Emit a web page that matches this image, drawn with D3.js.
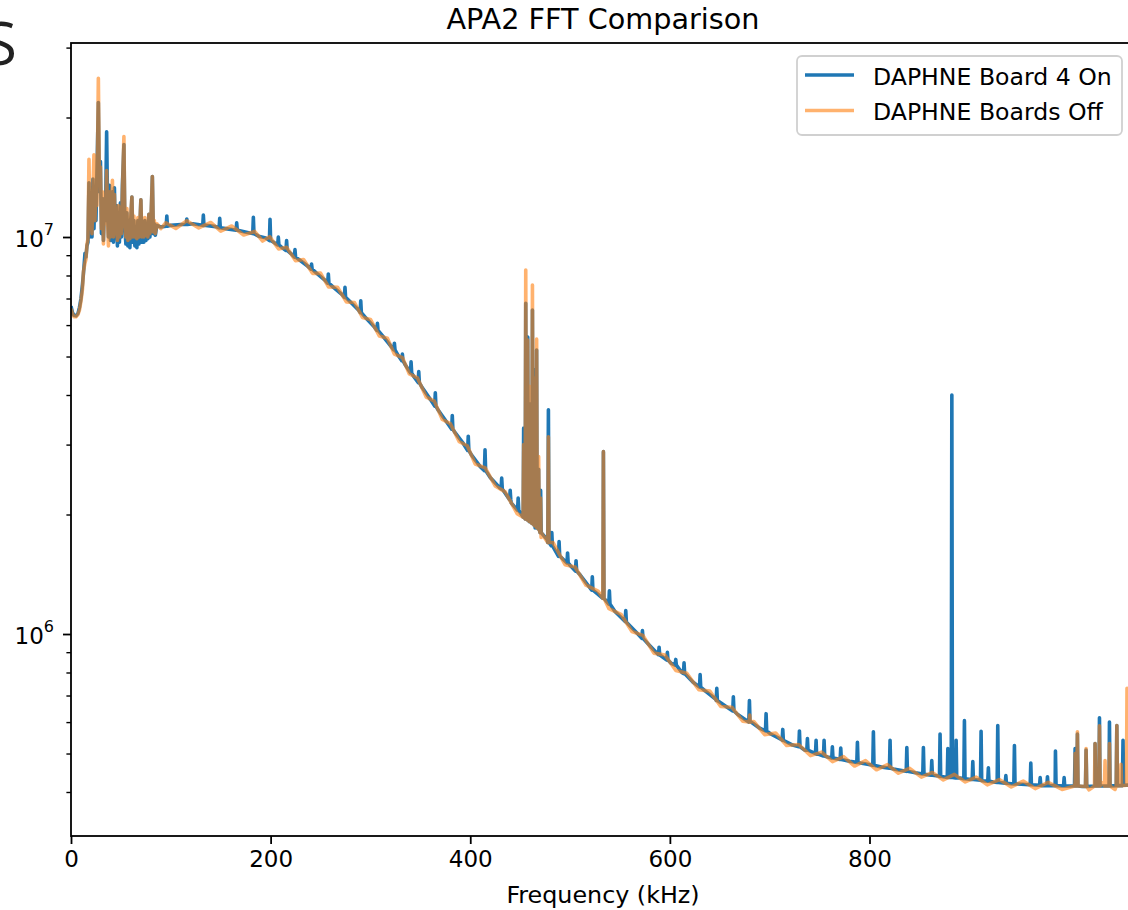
<!DOCTYPE html>
<html><head><meta charset="utf-8">
<script src="https://cdn.jsdelivr.net/npm/d3@7"></script>
<style>
body{margin:0;background:#fff;}
svg{display:block;font-family:"DejaVu Sans",sans-serif;}
</style></head><body>
<svg id="chart" width="1128" height="910"></svg>
<script>
const chartTitle = "APA2 FFT Comparison";
const xLabel = "Frequency (kHz)";
const seriesNames = ["DAPHNE Board 4 On", "DAPHNE Boards Off"];
const xTickValues = [0, 200, 400, 600, 800];
const yMajorTicks = [1e6, 1e7];
const yMajorExp = ["6", "7"];
const yMinorTicks = [4e5,5e5,6e5,7e5,8e5,9e5,2e6,3e6,4e6,5e6,6e6,7e6,8e6,9e6,2e7,3e7];
const xDomain = [0, 1066];
const yDomain = [3.099e5, 3.081e7];

// Board 4 On: low-frequency noisy part [kHz, amplitude]
const onLow = [[0,6.7e6],[1.5,6.45e6],[3,6.35e6],[5,6.33e6],[7,6.42e6],[8.5,6.65e6],[10,7.0e6],[11.5,7.6e6],[13,8.4e6],[14,9.1e6],[15,8.9e6],[16,9.5e6],[17,9.7e6],
[18,1.37e7],[19,1.0e7],[20,1.22e7],[21,1.0e7],[22,1.4e7],[23,1.05e7],[24,1.28e7],[25,1.1e7],[26,1.45e7],[27.4,2.18e7],[28.5,1.3e7],[29.5,1.55e7],[30.5,1.02e7],[31.5,1.25e7],[32.5,9.8e6],[33.5,1.2e7],[34.5,1.1e7],[35.7,1.84e7],[36.7,1.15e7],[37.5,1.0e7],[38.5,1.35e7],[39.5,9.8e6],[40.5,1.15e7],[41.5,1.3e7],[42.5,9.7e6],[43.5,1.33e7],[44.5,9.9e6],[45.5,1.2e7],[46.5,9.5e6],[47.5,1.15e7],[48.5,9.7e6],[49.5,1.22e7],[50.5,1.0e7],[51.5,1.35e7],[53,1.71e7],[54,1.05e7],[55,9.6e6],[56,1.15e7],[57,9.5e6],[58,1.1e7],[59,9.4e6],[60,1.12e7],[61,1.26e7],[62,9.7e6],[63,1.1e7],[64,9.5e6],[65,1.05e7],[66,9.4e6],[67,1.1e7],[68,9.6e6],[69,1.06e7],[70,1.24e7],[71,9.7e6],[72,1.07e7],[73,9.7e6],[74,1.1e7],[75,9.8e6],[76,1.06e7],[77,9.9e6],[78,1.14e7],[79,1.0e7],[80,1.07e7],[81.5,1.42e7],[82.5,1.02e7],[83.5,1.08e7],[84.5,1.01e7],[86,1.07e7]];

// Board 4 On: smooth floor of the spectrum
const onBase = [[90,1.06e7],[100,1.07e7],[110,1.075e7],[122,1.08e7],[135,1.07e7],[145,1.062e7],[155,1.05e7],[167,1.04e7],[179,1.023e7],[188,1.005e7],[195,9.95e6],[203,9.7e6],[212,9.38e6],[220,9.1e6],[229,8.75e6],[237,8.45e6],[246,8.11e6],[254,7.8e6],[263,7.47e6],[271,7.18e6],[280,6.86e6],[288,6.55e6],[296,6.23e6],[304,5.93e6],[313,5.6e6],[320,5.33e6],[328,5.02e6],[335,4.76e6],[343,4.47e6],[352,4.17e6],[360,3.9e6],[368,3.66e6],[376,3.43e6],[385,3.21e6],[393,3.02e6],[401,2.83e6],[410,2.64e6],[420,2.48e6],[430,2.33e6],[441,2.14e6],[453,1.97e6],[465,1.85e6],[477,1.73e6],[490,1.57e6],[500,1.49e6],[510,1.41e6],[523,1.29e6],[533,1.23e6],[545,1.14e6],[557,1.067e6],[568,1.0e6],[579,9.4e5],[590,8.85e5],[601,8.45e5],[612,8.0e5],[623,7.57e5],[635,7.2e5],[646,6.85e5],[657,6.55e5],[668,6.27e5],[679,6.0e5],[690,5.79e5],[701,5.6e5],[712,5.42e5],[723,5.25e5],[735,5.1e5],[747,4.98e5],[758,4.9e5],[769,4.84e5],[780,4.78e5],[791,4.73e5],[802,4.68e5],[813,4.62e5],[824,4.57e5],[835,4.52e5],[846,4.47e5],[858,4.42e5],[869,4.39e5],[880,4.36e5],[891,4.34e5],[902,4.3e5],[913,4.27e5],[924,4.24e5],[936,4.21e5],[948,4.19e5],[960,4.17e5],[973,4.15e5],[986,4.15e5],[1000,4.14e5],[1013,4.13e5],[1026,4.14e5],[1040,4.14e5],[1053,4.15e5],[1066,4.17e5]];

// Board 4 On: narrow lines [kHz, floor, peak]
const onSpikes = [[96,1.065e7,1.13e7],[116,1.075e7,1.11e7],[132.6,1.07e7,1.136e7],[149,1.055e7,1.115e7],[166,1.04e7,1.086e7],[182.7,1.02e7,1.121e7],[199.4,9.8e6,1.108e7],[207.7,9.55e6,1.0e7],[216,9.25e6,9.8e6],[224.4,8.9e6,9.3e6],[241,8.3e6,8.55e6],[257.8,7.65e6,8.07e6],[274.5,7.05e6,7.47e6],[290.3,6.45e6,6.91e6],[307,5.82e6,6.06e6],[324,5.2e6,5.4e6],[332,4.88e6,5.07e6],[340.7,4.55e6,4.85e6],[348.4,4.3e6,4.58e6],[365,3.75e6,4.05e6],[382,3.28e6,3.55e6],[398,2.9e6,3.15e6],[414.8,2.58e6,2.91e6],[431.5,2.32e6,2.47e6],[440,2.18e6,2.3e6],[448,2.05e6,2.2e6],
[453.5,1.97e6,3.3e6],[455.6,1.95e6,6.81e6],[457.6,1.94e6,5.6e6],[459.6,1.92e6,3.8e6],[462.3,1.9e6,6.55e6],[464.5,1.88e6,4.63e6],[466.5,1.86e6,5.19e6],[468.5,1.84e6,2.6e6],[470.5,1.8e6,2.3e6],[478.3,1.7e6,3.67e6],
[481.7,1.67e6,1.8e6],[489,1.57e6,1.71e6],[497.5,1.51e6,1.6e6],[506,1.44e6,1.53e6],[522.3,1.29e6,1.394e6],[533.4,1.23e6,2.88e6],[539.4,1.19e6,1.285e6],[555.8,1.075e6,1.145e6],[572.5,9.75e5,1.02e6],[589.2,8.87e5,9.26e5],[597.5,8.6e5,8.99e5],[605.9,8.35e5,8.63e5],[614.2,7.95e5,8.46e5],[630.3,7.35e5,7.9e5],[647,6.8e5,7.3e5],[663.6,6.4e5,6.95e5],[679.7,6.03e5,6.8e5],[696.4,5.7e5,6.3e5],[713.1,5.4e5,5.75e5],[729.8,5.2e5,5.7e5],[737.8,5.1e5,5.45e5],[746.5,5.0e5,5.4e5],[754.5,4.93e5,5.4e5],[762.8,4.87e5,5.2e5],[771.2,4.83e5,5.16e5],[787.9,4.75e5,5.34e5],[803.9,4.67e5,5.67e5],[820.6,4.59e5,5.4e5],[837.4,4.51e5,5.18e5],[854,4.44e5,5.18e5],[862.4,4.41e5,4.8e5],[870.7,4.38e5,5.6e5],[878.5,4.35e5,5.15e5],[882.5,4.35e5,4.0e6],[886.8,4.34e5,5.4e5],[895.1,4.32e5,6.05e5],[903.5,4.3e5,4.77e5],[911.8,4.28e5,5.69e5],[919.1,4.26e5,4.6e5],[928.5,4.23e5,5.88e5],[936.6,4.21e5,4.4e5],[945.2,4.19e5,5.24e5],[961.6,4.17e5,4.73e5],[971,4.16e5,4.35e5],[978.3,4.15e5,4.37e5],[986.3,4.15e5,5.07e5],[995,4.14e5,4.35e5],[1006,4.14e5,5.15e5],[1008.3,4.14e5,5.6e5],[1017,4.13e5,5.1e5],[1026,4.14e5,5.3e5],[1030.4,4.14e5,6.15e5],[1040.4,4.14e5,6.0e5],[1047.8,4.15e5,5.88e5],[1054,4.16e5,5.4e5]];

// Boards Off
const offLow = [[0,6.6e6],[1.5,6.4e6],[3,6.3e6],[5,6.3e6],[7,6.38e6],[8.5,6.55e6],[10,6.9e6],[11.5,7.4e6],[12.5,8.2e6],[14,8.6e6],[15,8.8e6],[16,9.6e6],[17,9.9e6],
[18,1.57e7],[19,1.05e7],[20,1.2e7],[21,1.02e7],[22,1.3e7],[23,1.61e7],[24,1.1e7],[25,1.3e7],[26,1.2e7],[27.4,2.51e7],[28.5,1.35e7],[29.5,1.5e7],[30.5,1.05e7],[31.5,1.3e7],[32.5,9.6e6],[33.5,1.25e7],[34.5,1.08e7],[35.7,1.47e7],[36.7,1.1e7],[37.5,9.5e6],[38.5,1.3e7],[39.5,1.0e7],[40.5,1.2e7],[41.5,1.39e7],[42.5,1.0e7],[43.5,1.28e7],[44.5,1.02e7],[45.5,1.15e7],[46.5,9.8e6],[47.5,1.2e7],[48.5,1.0e7],[49.5,1.18e7],[50.5,1.02e7],[51.5,1.3e7],[53,1.79e7],[54,1.08e7],[55,1.0e7],[56,1.18e7],[57,9.8e6],[58,1.12e7],[59,9.9e6],[60,1.15e7],[61,1.26e7],[62,1.0e7],[63,1.13e7],[64,1.0e7],[65,1.08e7],[66,9.9e6],[67,1.12e7],[68,1.0e7],[69,1.08e7],[70,1.24e7],[71,1.0e7],[72,1.1e7],[73,1.0e7],[74,1.12e7],[75,1.01e7],[76,1.09e7],[77,1.0e7],[78,1.14e7],[79,1.02e7],[80,1.09e7],[81.5,1.42e7],[82.5,1.03e7],[83.5,1.1e7],[84.5,1.02e7],[86,1.08e7]];

const offBase = [[90,1.05e7],[95,1.086e7],[105,1.051e7],[116,1.099e7],[128,1.054e7],[140,1.088e7],[150,1.035e7],[161,1.066e7],[173,1.012e7],[184,1.033e7],[192,9.77e6],[199,1.002e7],[208,9.33e6],[216,9.42e6],[225,8.72e6],[233,8.78e6],[242,8.1e6],[250,8.11e6],[258,7.49e6],[267,7.47e6],[276,6.86e6],[284,6.84e6],[292,6.27e6],[300,6.2e6],[309,5.63e6],[317,5.56e6],[324,5.07e6],[332,4.97e6],[339,4.52e6],[347,4.42e6],[356,3.95e6],[364,3.86e6],[372,3.47e6],[380,3.39e6],[389,3.05e6],[397,2.98e6],[405,2.68e6],[415,2.62e6],[425,2.36e6],[435,2.28e6],[447,2.01e6],[459,1.95e6],[471,1.75e6],[483,1.7e6],[495,1.495e6],[505,1.475e6],[516,1.327e6],[528,1.283e6],[539,1.158e6],[551,1.121e6],[562,1.015e6],[573,9.92e5],[584,8.95e5],[595,8.85e5],[606,8.09e5],[617,7.96e5],[629,7.24e5],[640,7.18e5],[651,6.57e5],[662,6.54e5],[673,6.03e5],[684,6.02e5],[695,5.58e5],[706,5.63e5],[717,5.24e5],[729,5.27e5],[741,4.94e5],[752,5.04e5],[763,4.77e5],[774,4.91e5],[785,4.65e5],[796,4.8e5],[807,4.55e5],[818,4.69e5],[829,4.46e5],[840,4.59e5],[852,4.36e5],[863,4.48e5],[874,4.29e5],[885,4.43e5],[896,4.24e5],[907,4.36e5],[918,4.17e5],[930,4.3e5],[942,4.12e5],[954,4.26e5],[966,4.08e5],[979,4.23e5],[993,4.06e5],[1006,4.22e5],[1020,4.05e5],[1033,4.22e5],[1046,4.06e5],[1060,4.24e5],[1066,4.17e5]];

const offSpikes = [[453.5,1.97e6,3.0e6],[455.6,1.95e6,8.26e6],[457.6,1.94e6,5.5e6],[459.6,1.92e6,4.2e6],[462.3,1.9e6,7.57e6],[464.5,1.88e6,4.4e6],[466.5,1.86e6,5.53e6],[468.5,1.84e6,2.8e6],[470.5,1.8e6,2.2e6],[478.3,1.7e6,3.14e6],[533.4,1.23e6,2.88e6],[680,6.0e5,6.25e5],[1006,4.14e5,5.0e5],[1008.3,4.14e5,5.67e5],[1017,4.13e5,5.15e5],[1026,4.14e5,5.3e5],[1030.4,4.14e5,5.87e5],[1036,4.14e5,4.8e5],[1040.4,4.14e5,5.3e5],[1047.8,4.14e5,5.88e5],[1052,4.15e5,4.7e5],[1058,4.16e5,7.3e5]];

function buildSeries(low, base, spikes) {
  const pts = low.concat(base);
  spikes.forEach(([f, b, p]) => { pts.push([f - 0.6, b], [f, p], [f + 0.6, b]); });
  return pts.sort((a, b) => a[0] - b[0]);
}
const seriesOn = buildSeries(onLow, onBase, onSpikes);
const seriesOff = buildSeries(offLow, offBase, offSpikes);

const L = 71, R = 1135, T = 43, B = 836;
const svg = d3.select("#chart");
const x = d3.scaleLinear().domain(xDomain).range([L, R]);
const y = d3.scaleLog().domain(yDomain).range([B, T]);

svg.append("rect").attr("width", 1128).attr("height", 910).attr("fill", "#fff");

// partial slide letter at top-left (cut by the picture edge, as in the reference)
svg.append("text").attr("x", 17).attr("y", 65).attr("text-anchor", "end")
  .attr("font-family", "'Open Sans', sans-serif").attr("font-size", 60).attr("fill", "#222").text("S");

svg.append("defs").append("clipPath").attr("id", "plotclip")
  .append("rect").attr("x", L).attr("y", T).attr("width", R - L).attr("height", B - T);

const line = d3.line().x(d => x(d[0])).y(d => y(d[1]));
const g = svg.append("g").attr("clip-path", "url(#plotclip)");
g.append("path").datum(seriesOn).attr("d", line).attr("fill", "none")
  .attr("stroke", "#1f77b4").attr("stroke-width", 3.6).attr("stroke-linejoin", "round");
g.append("path").datum(seriesOff).attr("d", line).attr("fill", "none")
  .attr("stroke", "#ff7f0e").attr("stroke-opacity", 0.6).attr("stroke-width", 3.6).attr("stroke-linejoin", "round");

// axes
const xAxis = d3.axisBottom(x).tickValues(xTickValues).tickSize(8).tickSizeOuter(0).tickPadding(7).tickFormat(d3.format("d"));
const gx = svg.append("g").attr("transform", `translate(0,${B})`).call(xAxis);
gx.select(".domain").remove();
gx.selectAll("line").attr("stroke", "#000").attr("stroke-width", 1.8);
gx.selectAll("text").attr("font-size", 23).attr("fill", "#000").attr("font-family", "'DejaVu Sans'");

const yAxisMinor = d3.axisLeft(y).tickValues(yMinorTicks).tickSize(4.6).tickSizeOuter(0).tickFormat("");
const gym = svg.append("g").attr("transform", `translate(${L},0)`).call(yAxisMinor);
gym.select(".domain").remove();
gym.selectAll("line").attr("stroke", "#000").attr("stroke-width", 1.4);

const yAxisMajor = d3.axisLeft(y).tickValues(yMajorTicks).tickSize(8).tickSizeOuter(0).tickFormat("");
const gyM = svg.append("g").attr("transform", `translate(${L},0)`).call(yAxisMajor);
gyM.select(".domain").remove();
gyM.selectAll("line").attr("stroke", "#000").attr("stroke-width", 1.8);

yMajorTicks.forEach((v, i) => {
  const t = svg.append("text").attr("x", 54).attr("y", y(v) + 10).attr("text-anchor", "end")
    .attr("font-size", 23).attr("fill", "#000");
  t.append("tspan").text("10");
  t.append("tspan").attr("font-size", 16).attr("dy", -12).text(yMajorExp[i]);
});

// spines
svg.append("rect").attr("x", L).attr("y", T).attr("width", R - L).attr("height", B - T)
  .attr("fill", "none").attr("stroke", "#000").attr("stroke-width", 1.8);

// title & label
svg.append("text").attr("x", (L + R) / 2).attr("y", 29).attr("text-anchor", "middle")
  .attr("font-size", 28.7).attr("fill", "#000").text(chartTitle);
svg.append("text").attr("x", (L + R) / 2).attr("y", 903).attr("text-anchor", "middle")
  .attr("font-size", 23.8).attr("fill", "#000").text(xLabel);

// legend
const lg = svg.append("g");
lg.append("rect").attr("x", 797).attr("y", 56).attr("width", 325).attr("height", 79).attr("rx", 5)
  .attr("fill", "#fff").attr("fill-opacity", 0.8).attr("stroke", "#d0d0d0").attr("stroke-width", 1.8);
const legendRows = [{name: seriesNames[0], color: "#1f77b4", op: 1, yy: 75},
                    {name: seriesNames[1], color: "#ff7f0e", op: 0.6, yy: 110.5}];
legendRows.forEach(r => {
  lg.append("line").attr("x1", 805).attr("x2", 854).attr("y1", r.yy).attr("y2", r.yy)
    .attr("stroke", r.color).attr("stroke-opacity", r.op).attr("stroke-width", 3.6);
  lg.append("text").attr("x", 873).attr("y", r.yy + 9.5).attr("font-size", 23.6).attr("fill", "#000").text(r.name);
});
</script></body></html>
